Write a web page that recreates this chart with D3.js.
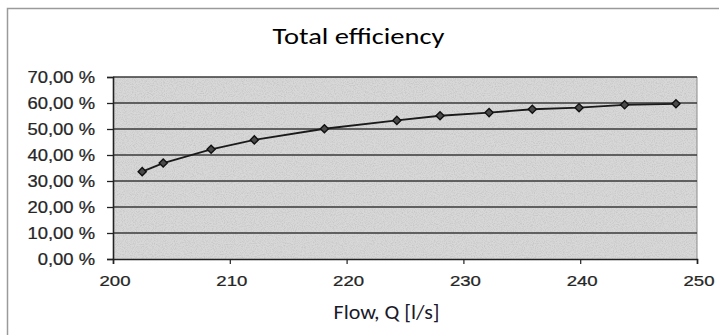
<!DOCTYPE html>
<html>
<head>
<meta charset="utf-8">
<script src="https://cdn.jsdelivr.net/npm/d3@7"></script>
<style>
  html, body { margin: 0; padding: 0; background: #fff; }
  svg { display: block; }
</style>
</head>
<body>
<svg id="chart" width="719" height="335"></svg>
<script>
// Measured pump flow [l/s] and total efficiency [%]
const flow = [202.5, 204.3, 208.4, 212.1, 218.1, 224.3, 228.0, 232.2, 235.9, 239.9, 243.8, 248.2];
const efficiency = [33.6, 36.9, 42.2, 45.8, 50.1, 53.3, 55.1, 56.3, 57.6, 58.2, 59.3, 59.7];
const xTicks = [200, 210, 220, 230, 240, 250];
const yTicks = [0, 10, 20, 30, 40, 50, 60, 70];
const title = "Total efficiency";
const xLabel = "Flow, Q [l/s]";

const svg = d3.select("#chart");
const W = 719, H = 335;
const plot = { left: 113, right: 697, top: 77, bottom: 259 };

const x = d3.scaleLinear().domain([200, 250]).range([plot.left, plot.right]);
const y = d3.scaleLinear().domain([0, 70]).range([plot.bottom, plot.top]);

// place a text element at (px, py) with a horizontal stretch factor
function stretched(sel, px, py, sx) {
  sel.attr("transform", `translate(${px},${py}) scale(${sx},1)`)
     .attr("x", 0).attr("y", 0);
  return sel;
}

// outer chart frame
svg.append("path")
  .attr("d", `M7.5,${H} V8.5 H${W}`)
  .attr("fill", "none").attr("stroke", "#9a9a9a").attr("stroke-width", 1.5);

// title
stretched(svg.append("text"), 358.5, 44, 1.24)
  .attr("text-anchor", "middle")
  .attr("font-family", "Carlito, Lato, sans-serif")
  .attr("font-size", 23).attr("fill", "#000")
  .text(title);

// plot area background with a grainy texture
const defs = svg.append("defs");
const flt = defs.append("filter").attr("id", "grain").attr("x", 0).attr("y", 0).attr("width", 1).attr("height", 1);
flt.append("feTurbulence").attr("type", "fractalNoise").attr("baseFrequency", 0.9).attr("numOctaves", 2).attr("seed", 3).attr("result", "noise");
flt.append("feColorMatrix").attr("in", "noise").attr("type", "matrix")
  .attr("values", "0 0 0 0 0  0 0 0 0 0  0 0 0 0 0  0 0 0 -2.2 1.35").attr("result", "dots");
flt.append("feComposite").attr("in", "dots").attr("in2", "SourceGraphic").attr("operator", "in").attr("result", "dotsIn");
flt.append("feComponentTransfer").attr("in", "dotsIn").attr("result", "dotsA")
  .append("feFuncA").attr("type", "linear").attr("slope", 0.18);
const merge = flt.append("feMerge");
merge.append("feMergeNode").attr("in", "SourceGraphic");
merge.append("feMergeNode").attr("in", "dotsA");

svg.append("rect")
  .attr("x", plot.left).attr("y", plot.top)
  .attr("width", plot.right - plot.left).attr("height", plot.bottom - plot.top)
  .attr("fill", "#d8d8d8")
  .attr("filter", "url(#grain)");

// right border of the plot area
svg.append("line")
  .attr("x1", plot.right).attr("x2", plot.right)
  .attr("y1", plot.top).attr("y2", plot.bottom)
  .attr("stroke", "#8a8a8a").attr("stroke-width", 1);

// horizontal gridlines
svg.append("g").selectAll("line")
  .data(yTicks.filter(d => d > 0))
  .join("line")
  .attr("x1", plot.left).attr("x2", plot.right)
  .attr("y1", d => y(d)).attr("y2", d => y(d))
  .attr("stroke", "#3a3a3a").attr("stroke-width", 1.4);

// y axis
const yAxis = svg.append("g")
  .attr("transform", `translate(${plot.left},0)`)
  .call(d3.axisLeft(y).tickValues(yTicks).tickSize(6)
    .tickFormat(d => d3.format(".2f")(d).replace(".", ",") + " %"));
yAxis.select(".domain").attr("stroke", "#222").attr("stroke-width", 1.6);
yAxis.selectAll(".tick line").attr("stroke", "#222").attr("stroke-width", 1.3);
yAxis.selectAll("text").each(function () {
  stretched(d3.select(this), -18, 0, 1.15)
    .attr("dy", "0.36em")
    .attr("font-family", "'Liberation Sans', Arial, sans-serif")
    .attr("font-size", 16).attr("fill", "#262626")
    .attr("stroke", "#262626").attr("stroke-width", 0.25);
});

// x axis
const xAxis = svg.append("g")
  .attr("transform", `translate(0,${plot.bottom})`)
  .call(d3.axisBottom(x).tickValues(xTicks).tickSize(5)
    .tickFormat(d3.format("d")));
xAxis.select(".domain").attr("stroke", "#222").attr("stroke-width", 1.6);
xAxis.selectAll(".tick line").attr("stroke", "#222").attr("stroke-width", 1.2);
xAxis.selectAll("text").each(function () {
  stretched(d3.select(this), 1.5, 27, 1.24)
    .attr("dy", 0)
    .attr("font-family", "'Liberation Sans', Arial, sans-serif")
    .attr("font-size", 15).attr("fill", "#262626")
    .attr("stroke", "#262626").attr("stroke-width", 0.25);
});

// x axis title
stretched(svg.append("text"), 386.5, 319, 1.1)
  .attr("text-anchor", "middle")
  .attr("font-family", "Carlito, Lato, sans-serif")
  .attr("font-size", 20).attr("fill", "#1a1a2a")
  .text(xLabel);

// efficiency curve
const pts = flow.map((f, i) => [f, efficiency[i]]);
svg.append("path")
  .datum(pts)
  .attr("fill", "none")
  .attr("stroke", "#1a1a1a").attr("stroke-width", 1.8)
  .attr("d", d3.line().x(d => x(d[0])).y(d => y(d[1])));

// diamond markers: dark outline with a slightly lighter core
svg.append("g").selectAll("path")
  .data(pts)
  .join("path")
  .attr("transform", d => `translate(${x(d[0])},${y(d[1])})`)
  .attr("d", d3.symbol(d3.symbolDiamond2, 42))
  .attr("fill", "#4a4a4a")
  .attr("stroke", "#111").attr("stroke-width", 1.4);
</script>
</body>
</html>
